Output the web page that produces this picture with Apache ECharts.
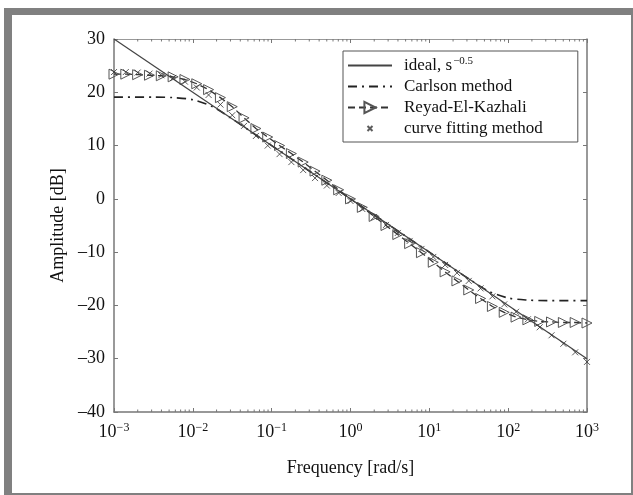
<!DOCTYPE html>
<html>
<head>
<meta charset="utf-8">
<script src="https://cdn.jsdelivr.net/npm/echarts@6/dist/echarts.min.js"></script>
<style>
html, body { margin: 0; padding: 0; background: #fff; }
#frame {
  position: absolute; left: 4px; top: 8px;
  width: 619px; height: 478px;
  border-style: solid; border-color: #808080;
  border-width: 7px 2px 2px 8px;
  background: #fff;
}
#chart { width: 619px; height: 478px; }
</style>
</head>
<body>
<div id="frame"><div id="chart"></div></div>
<script>
// sample points (log10 of frequency) used by the two marker curves
const sampleExp = [-3, -2.85, -2.7, -2.55, -2.4, -2.25, -2.1, -1.95, -1.8, -1.65, -1.5, -1.35, -1.2, -1.05, -0.9, -0.75, -0.6, -0.45, -0.3, -0.15,
  0, 0.15, 0.3, 0.45, 0.6, 0.75, 0.9, 1.05, 1.2, 1.35, 1.5, 1.65, 1.8, 1.95, 2.1, 2.25, 2.4, 2.55, 2.7, 2.85, 3]
const reyadDb = [23.4, 23.4, 23.3, 23.2, 23.1, 22.9, 22.4, 21.6, 20.5, 19.0, 17.3, 15.2, 13.2, 11.6, 10.0, 8.5, 6.9, 5.2, 3.5, 1.7,
  0.0, -1.6, -3.3, -5.0, -6.7, -8.4, -10.1, -11.9, -13.7, -15.4, -17.1, -18.7, -20.2, -21.3, -22.2, -22.7, -23.0, -23.1, -23.2, -23.2, -23.3]
const fitDb = [23.8, 23.8, 23.7, 23.5, 23.2, 22.7, 22.0, 20.9, 19.5, 17.7, 15.7, 13.7, 11.8, 10.0, 8.4, 6.9, 5.4, 3.9, 2.5, 1.1,
  -0.4, -1.9, -3.4, -4.9, -6.4, -7.9, -9.4, -10.9, -12.4, -13.9, -15.4, -16.8, -18.3, -19.8, -21.2, -22.6, -24.1, -25.6, -27.2, -28.8, -30.6]

const carlsonExp = [-3, -2.5, -2.25, -2, -1.75, -1.5, -1.25, -1, -0.75, -0.5, -0.25, 0, 0.25, 0.5, 0.75, 1, 1.25, 1.5, 1.75, 2, 2.25, 2.5, 3]
const carlsonDb = [19.1, 19.1, 19.0, 18.6, 17.3, 15.0, 12.5, 10.0, 7.5, 5.0, 2.5, 0, -2.5, -5.0, -7.5, -10.0, -12.5, -15.0, -17.3, -18.6, -19.0, -19.1, -19.1]

const idealFreq = [0.001, 1000]
const idealDb = [30, -30]

const xTickExp = {'-3': '−3', '-2': '−2', '-1': '−1', '0': '0', '1': '1', '2': '2', '3': '3'}
const decadeStarts = [0.001, 0.01, 0.1, 1, 10, 100]
const minorMult = [2, 3, 4, 5, 6, 7, 8, 9]

const font = "'Liberation Serif', 'Times New Roman', serif"
const axisColor = '#777'
const yMin = -40, yMax = 30
const crossPath = 'path://M0,0L10,10M10,0L0,10'
const noFill = 'rgba(0,0,0,0)'

const pairs = (exps, vals) => exps.map((e, i) => [Math.pow(10, e), vals[i]])

let minorTicks = []
decadeStarts.forEach(d => minorMult.forEach(m => minorTicks.push([d * m, 0])))

const chart = echarts.init(document.getElementById('chart'))

let option = {
  animation: false,
  backgroundColor: '#fff',
  grid: {left: 102, top: 24, right: 44, bottom: 81, containLabel: false, outerBoundsMode: 'none'},
  legend: {
    left: 331,
    top: 36,
    orient: 'vertical',
    data: [
      {name: 'ideal'},
      {name: 'Carlson method'},
      {name: 'Reyad-El-Kazhali'},
      {name: 'curve fitting method', icon: 'path://M-9,-9M0,0L10,10M10,0L0,10M19,19'}
    ],
    itemWidth: 44,
    itemHeight: 14,
    itemGap: 4,
    padding: [5, 35, 5, 4],
    borderColor: '#555',
    borderWidth: 1,
    backgroundColor: '#fff',
    selectedMode: false,
    formatter: name => name === 'ideal' ? '{t|ideal, s}{s|−0.5}' : '{t|' + name + '}',
    textStyle: {
      fontFamily: font,
      fontSize: 17,
      color: '#111',
      padding: [0, 0, 0, 7],
      rich: {
        t: {fontFamily: font, fontSize: 17, color: '#111'},
        s: {fontFamily: font, fontSize: 11, color: '#111', verticalAlign: 'bottom', padding: [0, 0, 8, 1]}
      }
    }
  },
  xAxis: [
    {
      type: 'log',
      logBase: 10,
      min: 0.001,
      max: 1000,
      name: 'Frequency [rad/s]',
      nameLocation: 'middle',
      nameGap: 47,
      nameTextStyle: {fontFamily: font, fontSize: 18, color: '#111'},
      axisLine: {onZero: false, lineStyle: {color: axisColor, width: 1.5}},
      axisTick: {inside: true, length: 4, lineStyle: {color: axisColor}},
      splitLine: {show: false},
      axisLabel: {
        margin: 10,
        formatter: v => '{b|10}{s|' + xTickExp[Math.round(Math.log10(v))] + '}',
        rich: {
          b: {fontFamily: font, fontSize: 18, color: '#111'},
          s: {fontFamily: font, fontSize: 12, color: '#111', verticalAlign: 'bottom', padding: [0, 0, 9, 0]}
        }
      }
    },
    {
      type: 'log',
      logBase: 10,
      min: 0.001,
      max: 1000,
      position: 'top',
      axisLine: {onZero: false, lineStyle: {color: '#999', width: 1}},
      axisTick: {inside: true, length: 4, lineStyle: {color: axisColor}},
      axisLabel: {show: false},
      splitLine: {show: false}
    }
  ],
  yAxis: [
    {
      type: 'value',
      min: yMin,
      max: yMax,
      interval: 10,
      name: 'Amplitude [dB]',
      nameLocation: 'middle',
      nameGap: 45,
      nameTextStyle: {fontFamily: font, fontSize: 18, color: '#111'},
      axisLine: {show: true, onZero: false, lineStyle: {color: axisColor, width: 1.5}},
      axisTick: {show: true, inside: true, length: 4, lineStyle: {color: axisColor}},
      splitLine: {show: false},
      axisLabel: {
        margin: 9,
        fontFamily: font,
        fontSize: 18,
        color: '#111',
        formatter: v => String(v).replace('-', '–')
      }
    },
    {
      type: 'value',
      min: yMin,
      max: yMax,
      interval: 10,
      position: 'right',
      axisLine: {show: true, onZero: false, lineStyle: {color: axisColor, width: 1.5}},
      axisTick: {show: true, inside: true, length: 4, lineStyle: {color: axisColor}},
      axisLabel: {show: false},
      splitLine: {show: false}
    }
  ],
  series: [
    {
      name: 'ideal',
      type: 'line',
      data: idealFreq.map((f, i) => [f, idealDb[i]]),
      symbol: 'none',
      lineStyle: {color: '#444', width: 1.2},
      itemStyle: {color: noFill, borderWidth: 0},
      z: 3
    },
    {
      name: 'Carlson method',
      type: 'line',
      data: pairs(carlsonExp, carlsonDb),
      smooth: 0.3,
      symbol: 'none',
      lineStyle: {color: '#222', width: 1.6, type: [9, 5, 2, 5]},
      itemStyle: {color: noFill, borderWidth: 0},
      z: 2
    },
    {
      name: 'Reyad-El-Kazhali',
      type: 'line',
      data: pairs(sampleExp, reyadDb),
      symbol: 'triangle',
      symbolRotate: -90,
      symbolSize: 10,
      showAllSymbol: true,
      lineStyle: {color: '#333', width: 1.3, type: [7, 4]},
      itemStyle: {color: 'rgba(255,255,255,0)', borderColor: '#555', borderWidth: 1},
      z: 2
    },
    {
      name: 'curve fitting method',
      type: 'scatter',
      data: pairs(sampleExp, fitDb),
      symbol: crossPath,
      symbolSize: 6,
      itemStyle: {color: noFill, borderColor: '#333', borderWidth: 1},
      z: 4
    },
    {
      type: 'custom',
      silent: true,
      clip: false,
      encode: {x: 0, y: 1},
      data: minorTicks,
      renderItem: (params, api) => {
        let v = api.value(0)
        let b = api.coord([v, yMin])
        let t = api.coord([v, yMax])
        return {
          type: 'group',
          children: [
            {type: 'line', shape: {x1: b[0], y1: b[1], x2: b[0], y2: b[1] - 2.5}, style: {stroke: axisColor, lineWidth: 1}},
            {type: 'line', shape: {x1: t[0], y1: t[1], x2: t[0], y2: t[1] + 2.5}, style: {stroke: axisColor, lineWidth: 1}}
          ]
        }
      }
    }
  ]
}
chart.setOption(option)
</script>
</body>
</html>
